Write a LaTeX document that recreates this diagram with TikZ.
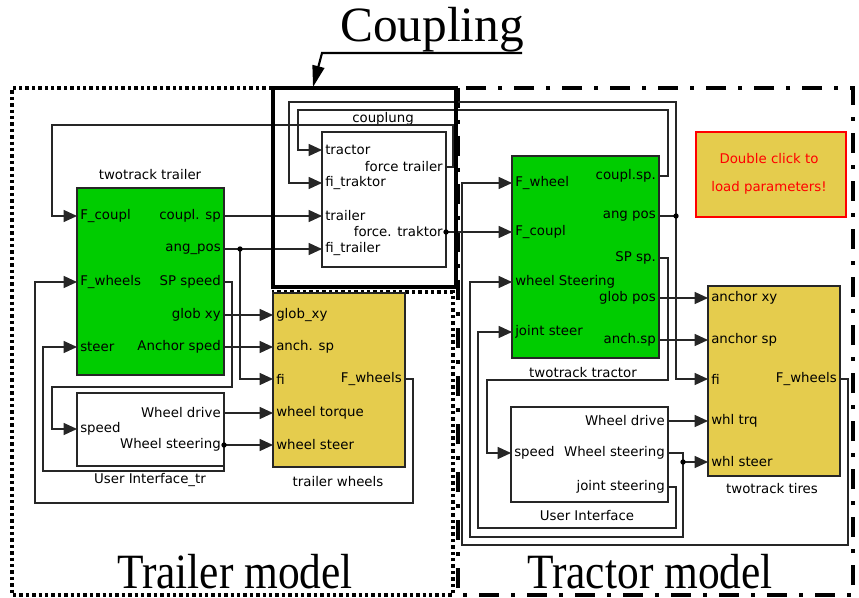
\documentclass[tikz,border=0pt]{standalone}
\usepackage{fontspec}
\setmainfont{DejaVu Sans}
\newfontfamily\bigserif{Liberation Serif}
\usetikzlibrary{arrows.meta,fit}
\definecolor{simgreen}{RGB}{0,204,0}
\definecolor{simyellow}{RGB}{229,204,77}
\definecolor{simred}{RGB}{255,0,0}
\begin{document}
\begin{tikzpicture}[x=0.75pt,y=-0.75pt,
  blk/.style={draw=black!85,line width=0.9pt,inner sep=0pt},
  gblk/.style={blk,fill=simgreen},
  yblk/.style={blk,fill=simyellow},
  wblk/.style={blk,fill=white},
  lbl/.style={inner sep=0pt,font=\fontsize{10}{12}\selectfont},
  lp/.style={lbl,anchor=west},
  rp/.style={lbl,anchor=east},
  ln/.style={line width=0.9pt,draw=black!85},
  arr/.style={ln,-{Triangle[length=10pt,width=9pt]}},
  jdot/.style={fill=black,circle,inner sep=0pt,minimum size=4pt},
  bigtxt/.style={inner sep=0pt,font=\bigserif\fontsize{37}{40}\selectfont},
]
\useasboundingbox (0,0) rectangle (859,598);

% ---------- region frames ----------
\draw[line width=2.6pt,dash pattern=on 2.6pt off 2.2pt]
  (272,88) -- (12,88) -- (12,595) -- (453,595) -- (453,292) -- (272,292);
\draw[line width=3pt,dash pattern=on 15pt off 9pt on 3pt off 9pt]
  (458,88) rectangle (853,595);

% ---------- blocks ----------
\node[gblk,fit={(77,188)(224,375)}] (ttr) {};
\node[wblk,fit={(77,393)(224,466)}] (uit) {};
\node[yblk,fit={(273,293)(405,467)}] (tw) {};
\node[wblk,fit={(322,132)(446,267)}] (cp) {};
\node[gblk,fit={(512,156)(659,358)}] (tc) {};
\node[wblk,fit={(511,407)(668,502)}] (ui) {};
\node[yblk,fit={(708,286)(840,476)}] (ti) {};
\node[blk,draw=simred,fill=simyellow,fit={(696,132)(846,217)}] (dc) {};

% ---------- block titles ----------
\node[lbl] (ttrT) at (150,175) {twotrack trailer};
\node[lbl] (uitT) at (150,480) {User Interface\_tr};
\node[lbl] (twT) at (338,482) {trailer wheels};
\node[lbl] (cpT) at (383,119) {couplung};
\node[lbl] (tcT) at (583,373) {twotrack tractor};
\node[lbl] (uiT) at (587,516) {User Interface};
\node[lbl] (tiT) at (772,489) {twotrack tires};
\node[lbl,text=simred,align=center,font=\fontsize{10}{21}\selectfont] (dcT) at (769,174) {Double click to\\load parameters!};

% ---------- port labels ----------
% twotrack trailer
\node[lp] at (80,216) {F\_coupl};
\node[lp] at (80,282) {F\_wheels};
\node[lp] at (80,347) {steer};
\node[rp] at (221,216) {coupl. sp};
\node[rp] at (221,249) {ang\_pos};
\node[rp] at (221,282) {SP speed};
\node[rp] at (221,315) {glob xy};
\node[rp] at (221,347) {Anchor sped};
% user interface tr
\node[rp] at (221,413) {Wheel drive};
\node[lp] at (80,429) {speed};
\node[rp] at (221,445) {Wheel steering};
% trailer wheels
\node[lp] at (276,315) {glob\_xy};
\node[lp] at (276,347) {anch. sp};
\node[lp] at (276,379) {fi};
\node[lp] at (276,413) {wheel torque};
\node[lp] at (276,445) {wheel steer};
\node[rp] at (402,379) {F\_wheels};
% couplung
\node[lp] at (325,150) {tractor};
\node[rp] at (443,167) {force trailer};
\node[lp] at (325,183) {fi\_traktor};
\node[lp] at (325,216) {trailer};
\node[rp] at (443,232) {force. traktor};
\node[lp] at (325,249) {fi\_trailer};
% twotrack tractor
\node[lp] at (515,183) {F\_wheel};
\node[lp] at (515,232) {F\_coupl};
\node[lp] at (515,282) {wheel Steering};
\node[lp] at (515,332) {joint steer};
\node[rp] at (656,176) {coupl.sp.};
\node[rp] at (656,216) {ang pos};
\node[rp] at (656,258) {SP sp.};
\node[rp] at (656,298) {glob pos};
\node[rp] at (656,340) {anch.sp};
% user interface
\node[rp] at (665,421) {Wheel drive};
\node[lp] at (514,453) {speed};
\node[rp] at (665,453) {Wheel steering};
\node[rp] at (665,487) {joint steering};
% twotrack tires
\node[lp] at (711,298) {anchor xy};
\node[lp] at (711,340) {anchor sp};
\node[lp] at (711,379) {fi};
\node[lp] at (711,421) {whl trq};
\node[lp] at (711,462) {whl steer};
\node[rp] at (837,379) {F\_wheels};

% ---------- port coordinates ----------
\coordinate (ttr-fc) at (77,216);  \coordinate (ttr-fw) at (77,282);
\coordinate (ttr-st) at (77,347);  \coordinate (ttr-cs) at (224,216);
\coordinate (ttr-ap) at (224,249); \coordinate (ttr-sp) at (224,282);
\coordinate (ttr-gx) at (224,315); \coordinate (ttr-as) at (224,347);
\coordinate (uit-wd) at (224,413); \coordinate (uit-sp) at (77,429);
\coordinate (uit-ws) at (224,445);
\coordinate (tw-gx) at (273,315);  \coordinate (tw-as) at (273,347);
\coordinate (tw-fi) at (273,379);  \coordinate (tw-wt) at (273,413);
\coordinate (tw-ws) at (273,445);  \coordinate (tw-fw) at (405,379);
\coordinate (cp-tr) at (322,150);  \coordinate (cp-ft) at (446,167);
\coordinate (cp-fk) at (322,183);  \coordinate (cp-tl) at (322,216);
\coordinate (cp-fo) at (446,232);  \coordinate (cp-fl) at (322,249);
\coordinate (tc-fw) at (512,183);  \coordinate (tc-fc) at (512,232);
\coordinate (tc-ws) at (512,282);  \coordinate (tc-js) at (512,332);
\coordinate (tc-cs) at (659,176);  \coordinate (tc-ap) at (659,216);
\coordinate (tc-sp) at (659,258);  \coordinate (tc-gp) at (659,298);
\coordinate (tc-as) at (659,340);
\coordinate (ui-wd) at (668,421);  \coordinate (ui-sp) at (511,453);
\coordinate (ui-ws) at (668,453);  \coordinate (ui-js) at (668,487);
\coordinate (ti-ax) at (708,298);  \coordinate (ti-as) at (708,340);
\coordinate (ti-fi) at (708,379);  \coordinate (ti-wt) at (708,421);
\coordinate (ti-ws) at (708,462);  \coordinate (ti-fw) at (840,379);
% junctions
\coordinate (j1) at (240,249);
\coordinate (j2) at (676,216);
\coordinate (j3) at (683,462);

% ---------- trailer connectors ----------
\draw[arr] (cp-ft) -- (453,167) |- (52,125) |- (ttr-fc);
\draw[arr] (ttr-cs) -- (cp-tl);
\draw[arr] (ttr-ap) -- (cp-fl);
\draw[arr] (j1) |- (tw-fi);
\draw[arr] (ttr-sp) -- (232,282) |- (52,387) |- (uit-sp);
\draw[arr] (ttr-gx) -- (tw-gx);
\draw[arr] (ttr-as) -- (tw-as);
\draw[arr] (uit-wd) -- (tw-wt);
\draw[arr] (uit-ws) -- (tw-ws);
\draw[arr] (uit-ws) |- (43,471) |- (ttr-st);
\draw[arr] (tw-fw) -- (413,379) |- (35,503) |- (ttr-fw);

% ---------- tractor connectors ----------
\draw[arr] (tc-cs) -- (668,176) |- (298,110) |- (cp-tr);
\draw[ln] (tc-ap) -- (j2);
\draw[arr] (j2) |- (289,102) |- (cp-fk);
\draw[arr] (j2) |- (ti-fi);
\draw[arr] (cp-fo) -- (tc-fc);
\draw[arr] (ti-fw) -- (848,379) |- (462,545) |- (tc-fw);
\draw[arr] (tc-sp) -- (668,258) |- (487,380) |- (ui-sp);
\draw[arr] (tc-gp) -- (ti-ax);
\draw[arr] (tc-as) -- (ti-as);
\draw[arr] (ui-wd) -- (ti-wt);
\draw[ln] (ui-ws) -- (683,453) -- (j3);
\draw[arr] (j3) -- (ti-ws);
\draw[arr] (j3) |- (470,537) |- (tc-ws);
\draw[arr] (ui-js) -- (676,487) |- (478,528) |- (tc-js);

% junction dots
\node[jdot] at (j1) {};
\node[jdot] at (j2) {};
\node[jdot] at (j3) {};
\node[jdot] at (uit-ws) {};
\node[jdot] at (cp-fo) {};

% ---------- coupling frame ----------
\draw[line width=3.6pt] (273,88) rectangle (456,287);
\node[bigtxt] (coupT) at (432,30) {Coupling};
\coordinate (ca) at (522,53);
\coordinate (cb) at (322,53);
\coordinate (cc) at (313,87);
\draw[line width=1.6pt,-{Triangle[length=16pt,width=9pt]}] (ca) -- (cb) -- (cc);

% ---------- model labels ----------
\node[bigtxt] (trl) at (235,572) {\scalebox{0.88}[1]{Trailer model}};
\node[bigtxt] (trc) at (650,572) {\scalebox{0.88}[1]{Tractor model}};
\end{tikzpicture}
\end{document}
